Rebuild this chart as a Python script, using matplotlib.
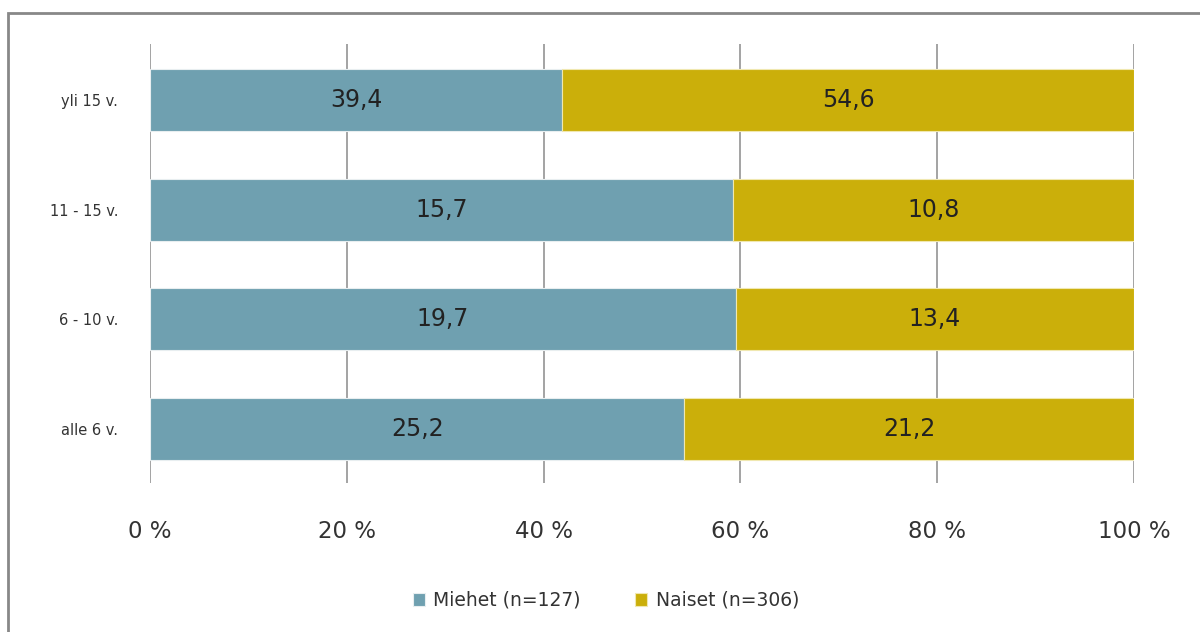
import matplotlib.pyplot as plt
from matplotlib.patches import Rectangle

categories = ['alle 6 v.', '6 - 10 v.', '11 - 15 v.', 'yli 15 v.']
miehet = [25.2, 19.7, 15.7, 39.4]
naiset = [21.2, 13.4, 10.8, 54.6]
ticks = [0, 20, 40, 60, 80, 100]

c_m = '#6fa0b0'
c_n = '#cbaf0a'

plt.rcParams['font.family'] = ['DejaVu Sans']

fig = plt.figure(figsize=(12, 6.32), dpi=100)
ax = fig.add_axes([0.125, 0.2358, 0.82, 0.6946])

# 100 % stacked: each row scaled to its own total
share_m = [m / (m + n) * 100 for m, n in zip(miehet, naiset)]
share_n = [n / (m + n) * 100 for m, n in zip(miehet, naiset)]
y = range(len(categories))

bm = ax.barh(y, share_m, height=0.565, color=c_m, edgecolor='#e8eef0', linewidth=0.8,
             label='Miehet (n=127)', zorder=3)
bn = ax.barh(y, share_n, left=share_m, height=0.565, color=c_n, edgecolor='#f0e8b0',
             linewidth=0.8, label='Naiset (n=306)', zorder=3)

ax.bar_label(bm, labels=[f'{v:.1f}'.replace('.', ',') for v in miehet], label_type='center',
             fontsize=17, color='#222222')
ax.bar_label(bn, labels=[f'{v:.1f}'.replace('.', ',') for v in naiset], label_type='center',
             fontsize=17, color='#222222')

ax.set_xlim(0, 100)
ax.set_ylim(-0.49, 3.51)
ax.set_xticks(ticks)
ax.set_xticklabels([f'{t} %' for t in ticks], fontsize=16.5, color='#333333')
ax.set_yticks(list(y))
ax.set_yticklabels(categories, fontsize=10.5, color='#333333')
ax.tick_params(axis='x', length=0, pad=27)
ax.tick_params(axis='y', length=0, pad=23)
ax.grid(axis='x', color='#9c9c9c', linewidth=1.3, zorder=0)
for s in ax.spines.values():
    s.set_visible(False)

ax.legend(loc='center', bbox_to_anchor=(0.505, 0.05), bbox_transform=fig.transFigure,
          ncol=2, frameon=False, fontsize=13.5, handlelength=0.65, handleheight=0.65,
          columnspacing=2.9, handletextpad=0.45, labelcolor='#333333')

# outer frame
fig.patches.append(Rectangle((8 / 1200, -0.1), 1.2, 1 - 13 / 632 + 0.1, transform=fig.transFigure,
                             fill=False, edgecolor='#888888', linewidth=2))

fig.savefig('out.png', dpi=100)
